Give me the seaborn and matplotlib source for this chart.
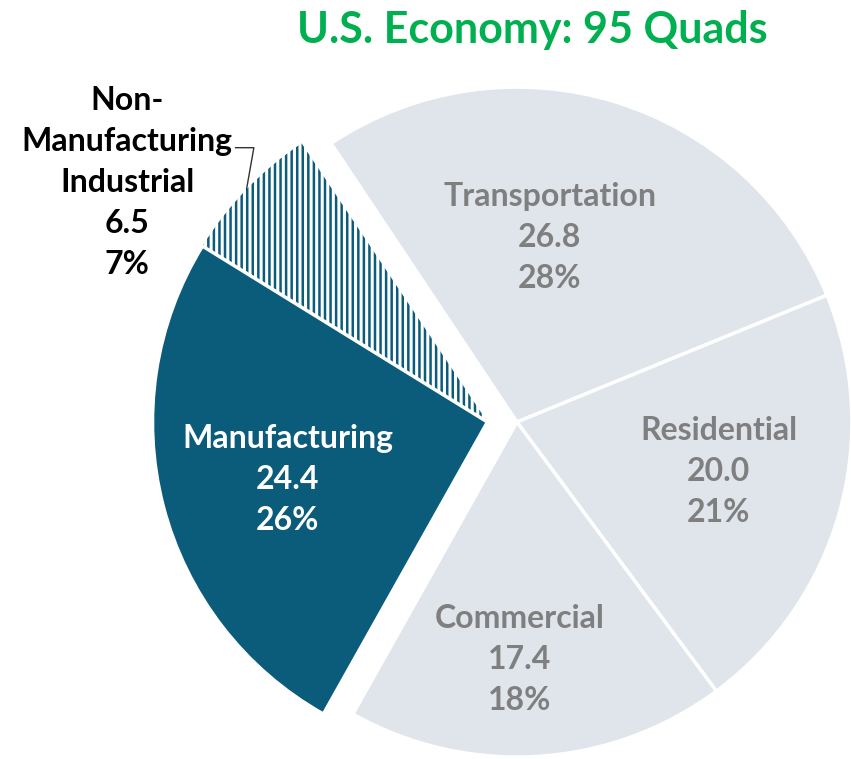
import numpy as np
import matplotlib
matplotlib.use("Agg")
import matplotlib.pyplot as plt
import seaborn as sns

# U.S. primary energy use by sector (quads)
sectors = ["Transportation", "Residential", "Commercial", "Manufacturing",
           "Non-\nManufacturing\nIndustrial"]
quads = [26.8, 20.0, 17.4, 24.4, 6.5]
shares = ["28%", "21%", "18%", "26%", "7%"]
title = "U.S. Economy: 95 Quads"

sns.set_theme(style="white")
plt.rcParams["font.family"] = ["Lato", "DejaVu Sans"]
plt.rcParams["hatch.linewidth"] = 1.8

light = "#dfe5eb"
teal = "#0b5b7b"
gray_txt = "#7f7f7f"
colors = [light, light, light, teal, "white"]

fig = plt.figure(figsize=(8.51, 7.59), dpi=100)
ax = fig.add_axes([0, 0, 1, 1])

wedges, _ = ax.pie(quads, startangle=123.7, counterclock=False, colors=colors,
                   radius=1.0, wedgeprops=dict(edgecolor="white", linewidth=2.5))

# pull the industrial group (manufacturing + non-manufacturing) out to the left
for w in wedges[3:]:
    w.set_center((-0.088, 0))
wedges[3].set_zorder(3)
wedges[4].set_edgecolor(teal)
wedges[4].set_linewidth(0)
wedges[4].set_hatch("|||")

ax.set_xlim(-1.543, 0.997)
ax.set_ylim(-1.006, 1.260)
ax.set_aspect("equal")
ax.axis("off")

label_r = [0.56, 0.62, 0.71, 0.62]
label_dt = [7, 1.8, -2.9, 1.6]
txt_colors = [gray_txt, gray_txt, gray_txt, "white"]
for i in range(4):
    w = wedges[i]
    th = np.deg2rad((w.theta1 + w.theta2) / 2 + label_dt[i])
    cx, cy = w.center
    ax.text(cx + label_r[i] * np.cos(th), cy + label_r[i] * np.sin(th),
            f"{sectors[i]}\n{quads[i]:.1f}\n{shares[i]}",
            ha="center", va="center", fontsize=23, fontweight="bold",
            color=txt_colors[i], linespacing=1.5, zorder=5)

# outside label for non-manufacturing industrial with leader line
w = wedges[4]
th = np.deg2rad((w.theta1 + w.theta2) / 2)
cx, cy = w.center
ax.annotate(f"{sectors[4]}\n{quads[4]:.1f}\n{shares[4]}",
            xy=(cx + np.cos(th), cy + np.sin(th)),
            xytext=(-10, 5), textcoords="offset points",
            ha="right", va="center", multialignment="center",
            fontsize=23, fontweight="bold", color="black", linespacing=1.5,
            arrowprops=dict(arrowstyle="-", color="#333333", lw=1,
                            relpos=(1.0, 0.68), patchA=None, shrinkA=2, shrinkB=0,
                            connectionstyle="angle,angleA=0,angleB=80,rad=0"))

fig.text(0.625, 0.96, title, ha="center", va="center", fontsize=31,
         fontweight="bold", color="#00b050")

fig.savefig("out.png", dpi=100)
